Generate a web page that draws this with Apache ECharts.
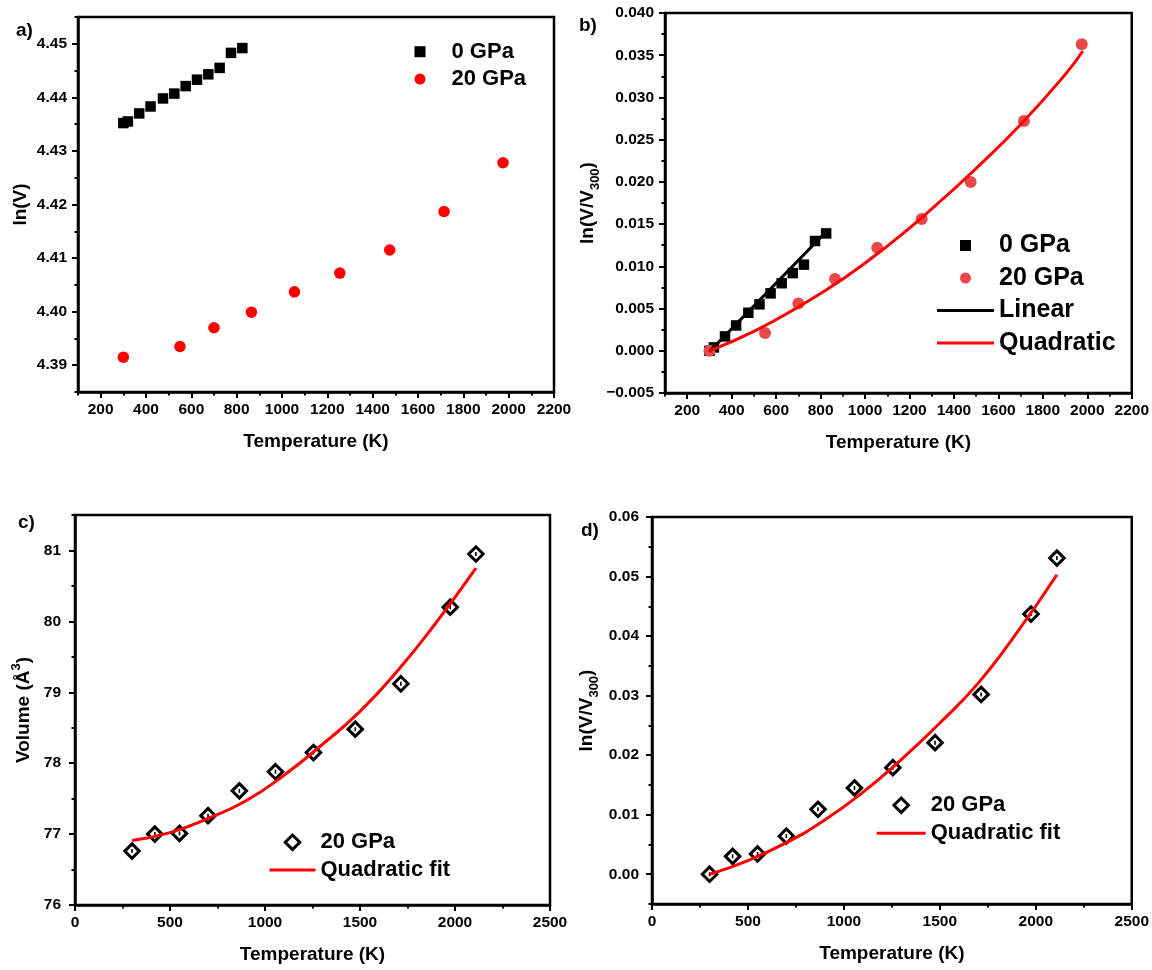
<!DOCTYPE html>
<html>
<head>
<meta charset="utf-8">
<script src="https://cdn.jsdelivr.net/npm/echarts@6/dist/echarts.min.js"></script>
<style>
  html, body { margin: 0; padding: 0; background: #fff; }
  #chart { width: 1152px; height: 970px; }
</style>
</head>
<body>
<div id="chart"></div>
<script>
// panel a / b : 0 GPa
const t0 = [300, 320, 370, 420, 475, 525, 575, 625, 675, 725, 775, 825]
const lnV0 = [4.4352, 4.4355, 4.4370, 4.4383, 4.4398, 4.4407, 4.4421, 4.4433, 4.4443, 4.4455, 4.4483, 4.4492]
const rel0 = [0, 0.0004, 0.0017, 0.0030, 0.0045, 0.0055, 0.0068, 0.0080, 0.0092, 0.0102, 0.0130, 0.0139]
// panel a / b : 20 GPa
const t20 = [300, 550, 700, 865, 1055, 1255, 1475, 1715, 1975]
const lnV20 = [4.3915, 4.3935, 4.3970, 4.3999, 4.4037, 4.4072, 4.4115, 4.4187, 4.4278]
const rel20 = [0, 0.0021, 0.0056, 0.0085, 0.0122, 0.0156, 0.0200, 0.0272, 0.0363]
// panel b fits
const linT = [300, 825]
const linY = [-0.0001, 0.0141]
const quadT = [300, 500, 700, 900, 1100, 1300, 1500, 1700, 1900, 1980]
const quadY = [0, 0.0023, 0.0052, 0.0085, 0.0124, 0.0168, 0.0216, 0.0268, 0.0327, 0.0355]
// panel c / d : 20 GPa
const tCD = [300, 420, 550, 700, 865, 1055, 1255, 1475, 1715, 1975, 2110]
const vol = [76.76, 77.00, 77.01, 77.26, 77.61, 77.88, 78.15, 78.48, 79.12, 80.20, 80.95]
const relCD = [0, 0.0030, 0.0034, 0.0064, 0.0109, 0.0145, 0.0179, 0.0221, 0.0302, 0.0437, 0.0531]
// panel c / d fits
const fitT = [300, 500, 700, 900, 1100, 1300, 1500, 1700, 1900, 2110]
const volFit = [76.91, 77.02, 77.22, 77.47, 77.83, 78.26, 78.73, 79.31, 79.98, 80.75]
const relFit = [0, 0.0023, 0.0053, 0.0091, 0.0138, 0.0193, 0.0254, 0.0321, 0.0405, 0.0503]

// tick values (major = labelled, minor = short unlabelled)
const tempMajorAB = [200, 400, 600, 800, 1000, 1200, 1400, 1600, 1800, 2000, 2200]
const tempMinorAB = [100, 300, 500, 700, 900, 1100, 1300, 1500, 1700, 1900, 2100]
const tempMajorCD = [0, 500, 1000, 1500, 2000, 2500]
const tempMinorCD = [250, 750, 1250, 1750, 2250]
const lnVMajor = [4.39, 4.40, 4.41, 4.42, 4.43, 4.44, 4.45]
const lnVMinor = [4.385, 4.395, 4.405, 4.415, 4.425, 4.435, 4.445, 4.455]
const relBMajor = [-0.005, 0, 0.005, 0.010, 0.015, 0.020, 0.025, 0.030, 0.035, 0.040]
const relBMinor = [-0.0025, 0.0025, 0.0075, 0.0125, 0.0175, 0.0225, 0.0275, 0.0325, 0.0375]
const volMajor = [76, 77, 78, 79, 80, 81]
const volMinor = [76.5, 77.5, 78.5, 79.5, 80.5, 81.5]
const relDMajor = [0, 0.01, 0.02, 0.03, 0.04, 0.05, 0.06]
const relDMinor = [-0.005, 0.005, 0.015, 0.025, 0.035, 0.045, 0.055]

const FONT = "'Liberation Sans', Arial, Helvetica, sans-serif"
const legendNames = {
  a0: '0 GPa', a20: '20 GPa', b0: '0 GPa', b20: '20 GPa', bLin: 'Linear', bQuad: 'Quadratic',
  c20: '20 GPa', cFit: 'Quadratic fit', d20: '20 GPa', dFit: 'Quadratic fit',
}
// legend icons that keep their aspect inside a wide legend slot
const SQUARE = 'path://M0,0L11,0L11,11L0,11Z'
const DIAMOND = 'path://M7.25,0L14.5,7.25L7.25,14.5L0,7.25Z'
const lineIcon = (w) => `path://M0,0L${w},0L${w},3L0,3Z`
const hollow = { color: 'rgba(0,0,0,0)', borderColor: '#000', borderWidth: 3 }

function pts(xs, ys) { return xs.map((x, i) => [x, ys[i]]) }

const tickLabel = { color: '#000', fontFamily: FONT, fontSize: 15.5, fontWeight: 'bold' }
const nameStyle = { color: '#000', fontFamily: FONT, fontSize: 19, fontWeight: 'bold' }
const blackLine = (width) => ({ color: '#000', width })

function xAxisFor(grid, min, max, major) {
  return {
    type: 'value', gridIndex: grid, min, max, position: 'bottom',
    name: 'Temperature (K)', nameLocation: 'middle', nameGap: 40, nameTextStyle: nameStyle,
    axisLine: { show: true, onZero: false, lineStyle: blackLine(2.5) },
    axisTick: { show: true, length: 6, customValues: major, lineStyle: blackLine(2) },
    splitLine: { show: false },
    axisLabel: { ...tickLabel, margin: 10, customValues: major, formatter: (v) => String(Math.round(v)) },
  }
}

function yAxisFor(grid, min, max, major, fmt, name, gap, margin, rich) {
  return {
    type: 'value', gridIndex: grid, min, max, position: 'left',
    name, nameLocation: 'middle', nameRotate: 90, nameGap: gap,
    nameTextStyle: { ...nameStyle, rich },
    axisLine: { show: true, onZero: false, lineStyle: blackLine(2.5) },
    axisTick: { show: true, length: 6, customValues: major, lineStyle: blackLine(2) },
    splitLine: { show: false },
    axisLabel: { ...tickLabel, margin, customValues: major, formatter: fmt },
  }
}

// an unlabelled twin axis that only carries the short minor ticks
function minorAxis(grid, min, max, minor, position) {
  return {
    type: 'value', gridIndex: grid, min, max, position,
    axisLine: { show: false, onZero: false },
    axisTick: { show: true, length: 3.5, customValues: minor, lineStyle: blackLine(2) },
    axisLabel: { show: false },
    splitLine: { show: false },
  }
}

const subRich = {
  n: { fontFamily: FONT, fontSize: 19, fontWeight: 'bold', color: '#000', verticalAlign: 'middle' },
  s: { fontFamily: FONT, fontSize: 13, fontWeight: 'bold', color: '#000', lineHeight: 28, verticalAlign: 'bottom' },
}
const supRich = {
  n: { fontFamily: FONT, fontSize: 19, fontWeight: 'bold', color: '#000', verticalAlign: 'middle' },
  p: { fontFamily: FONT, fontSize: 13, fontWeight: 'bold', color: '#000', lineHeight: 28, verticalAlign: 'top' },
}

function scatter(name, axis, xs, ys, symbol, size, color) {
  return {
    name, type: 'scatter', xAxisIndex: axis, yAxisIndex: axis,
    symbol, symbolSize: size, itemStyle: { color, opacity: 1 }, data: pts(xs, ys), z: 3,
  }
}

function diamonds(name, axis, xs, ys) {
  return {
    name, type: 'scatter', xAxisIndex: axis, yAxisIndex: axis,
    symbol: 'diamond', symbolSize: 14.5, itemStyle: { ...hollow, opacity: 1 },
    data: pts(xs, ys), z: 3,
  }
}

function dots(axis, xs, ys) {
  return {
    type: 'scatter', xAxisIndex: axis, yAxisIndex: axis, silent: true,
    symbol: 'rect', symbolSize: [1.6, 4], itemStyle: { color: '#000', opacity: 1 }, data: pts(xs, ys), z: 4,
  }
}

function fitLine(name, axis, xs, ys, color) {
  return {
    name, type: 'line', xAxisIndex: axis, yAxisIndex: axis, smooth: true, symbol: 'none', showSymbol: false,
    lineStyle: { color, width: 3 }, itemStyle: { color }, data: pts(xs, ys), z: 5,
  }
}

function legendFor(items, left, top, width, height, fontSize, gap) {
  return {
    data: items, orient: 'vertical', left, top, padding: 0, symbolKeepAspect: true,
    itemWidth: width, itemHeight: height, itemGap: gap, selectedMode: false,
    formatter: (n) => legendNames[n],
    textStyle: { color: '#000', fontFamily: FONT, fontSize, fontWeight: 'bold', lineHeight: fontSize },
  }
}

const panelTitle = (text, left, top) => ({
  text, left, top, padding: 0,
  textStyle: { color: '#000', fontFamily: FONT, fontSize: 19, fontWeight: 'bold' },
})

const option = {
  backgroundColor: '#fff',
  animation: false,
  title: [
    panelTitle('a)', 16, 21), panelTitle('b)', 579, 16),
    panelTitle('c)', 18, 513), panelTitle('d)', 581, 521),
  ],
  grid: [
    { left: 78, top: 17, width: 476, height: 375 },
    { left: 665, top: 13, width: 469, height: 380 },
    { left: 75, top: 515, width: 475, height: 390 },
    { left: 652, top: 517, width: 482, height: 387 },
  ].map((g) => ({ ...g, show: true, borderColor: '#000', borderWidth: 2.5, backgroundColor: '#fff' })),
  xAxis: [
    xAxisFor(0, 100, 2200, tempMajorAB),
    xAxisFor(1, 100, 2200, tempMajorAB),
    xAxisFor(2, 0, 2500, tempMajorCD),
    xAxisFor(3, 0, 2500, tempMajorCD),
    minorAxis(0, 100, 2200, tempMinorAB, 'bottom'),
    minorAxis(1, 100, 2200, tempMinorAB, 'bottom'),
    minorAxis(2, 0, 2500, tempMinorCD, 'bottom'),
    minorAxis(3, 0, 2500, tempMinorCD, 'bottom'),
  ],
  yAxis: [
    yAxisFor(0, 4.385, 4.455, lnVMajor, (v) => v.toFixed(2), 'ln(V)', 48, 11, undefined),
    yAxisFor(1, -0.005, 0.04, relBMajor, (v) => v.toFixed(3).replace('-', '\u2212'),
      '{n|ln(V/V}{s|300}{n|)}', 63, 11, subRich),
    yAxisFor(2, 76, 81.5, volMajor, (v) => String(Math.round(v)),
      '{n|Volume (Å}{p|3}{n|)}', 37, 14, supRich),
    yAxisFor(3, -0.005, 0.06, relDMajor, (v) => v.toFixed(2),
      '{n|ln(V/V}{s|300}{n|)}', 51, 13, subRich),
    minorAxis(0, 4.385, 4.455, lnVMinor, 'left'),
    minorAxis(1, -0.005, 0.04, relBMinor, 'left'),
    minorAxis(2, 76, 81.5, volMinor, 'left'),
    minorAxis(3, -0.005, 0.06, relDMinor, 'left'),
  ],
  legend: [
    legendFor([{ name: 'a0', icon: SQUARE }, { name: 'a20', icon: 'circle' }], 414.5, 40.7, 53, 11, 22, 5.3),
    legendFor([{ name: 'b0', icon: SQUARE }, { name: 'b20', icon: 'circle' },
      { name: 'bLin', icon: lineIcon(57) }, { name: 'bQuad', icon: lineIcon(57) }], 937, 233, 57, 11, 25, 7.5),
    legendFor([{ name: 'c20', icon: DIAMOND, itemStyle: hollow }, { name: 'cFit', icon: lineIcon(46) }],
      269.5, 831.3, 46, 14.5, 22, 5.7),
    legendFor([{ name: 'd20', icon: DIAMOND, itemStyle: hollow }, { name: 'dFit', icon: lineIcon(49) }],
      876.7, 794.3, 49, 14.5, 22, 6),
  ],
  series: [
    scatter('a0', 0, t0, lnV0, 'rect', 10.5, '#000'),
    scatter('a20', 0, t20, lnV20, 'circle', 11.5, '#ff0000'),
    scatter('b0', 1, t0, rel0, 'rect', 10.5, '#000'),
    scatter('b20', 1, t20, rel20, 'circle', 12, '#ea4848'),
    fitLine('bLin', 1, linT, linY, '#000'),
    fitLine('bQuad', 1, quadT, quadY, '#ff0000'),
    diamonds('c20', 2, tCD, vol),
    dots(2, tCD, vol),
    fitLine('cFit', 2, fitT, volFit, '#ff0000'),
    diamonds('d20', 3, tCD, relCD),
    dots(3, tCD, relCD),
    fitLine('dFit', 3, fitT, relFit, '#ff0000'),
  ],
}

const chart = echarts.init(document.getElementById('chart'), null, { renderer: 'canvas' })
chart.setOption(option)
</script>
</body>
</html>
